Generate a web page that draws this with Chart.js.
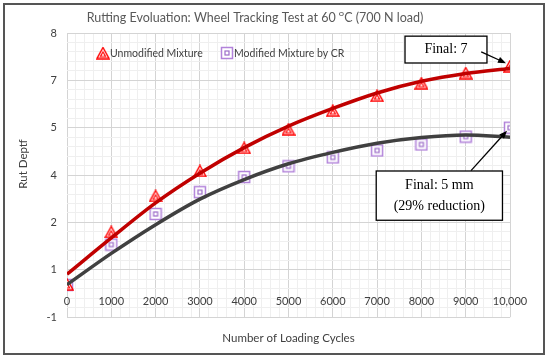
<!DOCTYPE html>
<html>
<head>
<meta charset="utf-8">
<script src="https://cdn.jsdelivr.net/npm/chart.js@4.4.1/dist/chart.umd.min.js"></script>
<style>
    html, body { margin: 0; padding: 0; background: #fff; }
    #wrap { width: 550px; height: 360px; }
</style>
</head>
<body>
<div id="wrap"><canvas id="rutChart" width="550" height="360"></canvas></div>
<script>
// values
const cycles = [0, 1000, 2000, 3000, 4000, 5000, 6000, 7000, 8000, 9000, 10000];
const unmodifiedRut = [0.04, 1.70, 2.84, 3.63, 4.36, 4.95, 5.54, 6.01, 6.41, 6.73, 6.95];
const modifiedRut = [0.02, 1.30, 2.27, 2.96, 3.44, 3.78, 4.06, 4.28, 4.47, 4.72, 5.00];
const unmodifiedTrend = [0.36, 1.51, 2.62, 3.56, 4.37, 5.05, 5.61, 6.10, 6.47, 6.72, 6.88];
const modifiedTrend = [0.03, 1.02, 1.93, 2.74, 3.36, 3.86, 4.22, 4.51, 4.69, 4.77, 4.70];
const xTickLabels = ['0', '1000', '2000', '3000', '4000', '5000', '6000', '7000', '8000', '9000', '10,000'];
const yTickLabels = ['-1', '1', '2', '4', '5', '7', '8'];

const labelFont = 'Lato';

function toPoints(values) {
    return cycles.map((c, i) => ({ x: c, y: values[i] }));
}

function makeTriangleMarker() {
    const c = document.createElement('canvas');
    c.width = 14;
    c.height = 13;
    const g = c.getContext('2d');
    g.strokeStyle = '#FF0000';
    g.fillStyle = '#ffffff';
    g.lineWidth = 1.4;
    g.beginPath();
    g.moveTo(7, 1); g.lineTo(13, 12); g.lineTo(1, 12); g.closePath();
    g.fill(); g.stroke();
    g.lineWidth = 1.2;
    g.beginPath();
    g.moveTo(7, 5.5); g.lineTo(9.6, 10); g.lineTo(4.4, 10); g.closePath();
    g.stroke();
    return c;
}

function makeSquareMarker() {
    const c = document.createElement('canvas');
    c.width = 14;
    c.height = 14;
    const g = c.getContext('2d');
    g.strokeStyle = '#B283DA';
    g.fillStyle = '#ffffff';
    g.lineWidth = 1.5;
    g.fillRect(1.5, 1.5, 11, 11);
    g.strokeRect(1.5, 1.5, 11, 11);
    g.strokeStyle = '#9C6CC8';
    g.lineWidth = 1.2;
    g.strokeRect(5, 5, 4, 4);
    return c;
}

const triangleMarker = makeTriangleMarker();
const squareMarker = makeSquareMarker();

const framePlugin = {
    id: 'frame',
    beforeDraw(chart) {
        const ctx = chart.ctx;
        ctx.save();
        ctx.fillStyle = '#ffffff';
        ctx.fillRect(0, 0, chart.width, chart.height);
        ctx.restore();
    },
    afterDraw(chart) {
        const ctx = chart.ctx;
        ctx.save();
        ctx.strokeStyle = '#555555';
        ctx.lineWidth = 2;
        ctx.strokeRect(4, 4, 540, 350);
        // y axis title
        ctx.translate(23, 164);
        ctx.rotate(-Math.PI / 2);
        ctx.fillStyle = '#404040';
        ctx.font = `11.5px ${labelFont}`;
        ctx.textAlign = 'center';
        ctx.textBaseline = 'middle';
        ctx.fillText('Rut Deptf', 0, 0);
        ctx.restore();
    }
};

const legendPlugin = {
    id: 'insideLegend',
    afterDraw(chart) {
        const ctx = chart.ctx;
        const area = chart.chartArea;
        const items = [
            { text: chart.data.datasets[0].label, marker: triangleMarker, dx: 36 },
            { text: chart.data.datasets[1].label, marker: squareMarker, dx: 160 }
        ];
        const cy = area.top + 20;
        ctx.save();
        ctx.font = `10.5px ${labelFont}`;
        ctx.fillStyle = '#404040';
        ctx.textBaseline = 'middle';
        items.forEach(item => {
            const cx = area.left + item.dx;
            ctx.drawImage(item.marker, cx - item.marker.width / 2, cy - item.marker.height / 2);
            ctx.fillText(item.text, cx + 7, cy + 1);
        });
        ctx.restore();
    }
};

function drawArrow(ctx, x1, y1, x2, y2) {
    const ang = Math.atan2(y2 - y1, x2 - x1);
    const len = 8, half = 3.2;
    ctx.beginPath();
    ctx.moveTo(x1, y1);
    ctx.lineTo(x2 - Math.cos(ang) * len * 0.8, y2 - Math.sin(ang) * len * 0.8);
    ctx.stroke();
    ctx.beginPath();
    ctx.moveTo(x2, y2);
    ctx.lineTo(x2 - Math.cos(ang) * len + Math.sin(ang) * half, y2 - Math.sin(ang) * len - Math.cos(ang) * half);
    ctx.lineTo(x2 - Math.cos(ang) * len - Math.sin(ang) * half, y2 - Math.sin(ang) * len + Math.cos(ang) * half);
    ctx.closePath();
    ctx.fill();
}

function drawNote(ctx, x, y, x1, y1, x2, y2, lines, lineGap) {
    const left = x.getPixelForValue(x1), right = x.getPixelForValue(x2);
    const top = y.getPixelForValue(y1), bottom = y.getPixelForValue(y2);
    ctx.fillStyle = '#ffffff';
    ctx.fillRect(left, top, right - left, bottom - top);
    ctx.strokeStyle = '#000000';
    ctx.lineWidth = 1.3;
    ctx.strokeRect(left, top, right - left, bottom - top);
    ctx.fillStyle = '#000000';
    ctx.font = '14px "Liberation Serif"';
    ctx.textAlign = 'center';
    ctx.textBaseline = 'middle';
    const cx = (left + right) / 2;
    const cy = (top + bottom) / 2 - (lines.length - 1) * lineGap / 2;
    lines.forEach((t, i) => ctx.fillText(t, cx, cy + i * lineGap));
}

const notesPlugin = {
    id: 'finalNotes',
    afterDraw(chart) {
        const { ctx, scales: { x, y } } = chart;
        const last = cycles.length - 1;
        ctx.save();
        drawNote(ctx, x, y, 7630, 7.9, 9480, 7.05, ['Final: 7'], 0);
        drawNote(ctx, x, y, 6980, 3.63, 9830, 2.07, ['Final: 5 mm', '(29% reduction)'], 21);
        ctx.strokeStyle = '#000000';
        ctx.fillStyle = '#000000';
        ctx.lineWidth = 1.3;
        const px1 = x.getPixelForValue(cycles[last]);
        drawArrow(ctx, x.getPixelForValue(9350), y.getPixelForValue(7.4), px1 - 4, y.getPixelForValue(unmodifiedRut[last]) - 3);
        drawArrow(ctx, x.getPixelForValue(9120), y.getPixelForValue(3.64), px1 - 3, y.getPixelForValue(modifiedRut[last]) + 3);
        ctx.restore();
    }
};

const ctx = document.getElementById('rutChart').getContext('2d');
const rutChart = new Chart(ctx, {
    type: 'line',
    data: {
        datasets: [
            {
                label: 'Unmodified Mixture',
                data: toPoints(unmodifiedRut),
                showLine: false,
                pointStyle: triangleMarker,
                pointRadius: 6,
                order: 2
            },
            {
                label: 'Modified Mixture by CR',
                data: toPoints(modifiedRut),
                showLine: false,
                pointStyle: squareMarker,
                pointRadius: 6,
                order: 2
            },
            {
                label: 'Unmodified trend',
                data: toPoints(unmodifiedTrend),
                borderColor: '#C00000',
                borderWidth: 3.5,
                pointRadius: 0,
                cubicInterpolationMode: 'monotone',
                order: 1
            },
            {
                label: 'Modified trend',
                data: toPoints(modifiedTrend),
                borderColor: '#404040',
                borderWidth: 3.5,
                pointRadius: 0,
                cubicInterpolationMode: 'monotone',
                order: 1
            }
        ]
    },
    options: {
        responsive: false,
        animation: false,
        devicePixelRatio: 1,
        layout: { padding: { left: 0, right: 40, top: 0, bottom: 0 } },
        scales: {
            x: {
                type: 'linear',
                position: { y: 0 },
                min: 0,
                max: 10000,
                border: { display: false },
                grid: {
                    drawTicks: false,
                    color: c => (c.tick && c.tick.value % 1000 === 0) ? '#D4D4D4' : '#EFEFEF'
                },
                ticks: {
                    stepSize: 200,
                    autoSkip: false,
                    maxRotation: 0,
                    minRotation: 0,
                    padding: 9,
                    color: '#404040',
                    font: { family: labelFont, size: 11 },
                    callback: v => (v % 1000 === 0 ? xTickLabels[v / 1000] : '')
                }
            },
            y: {
                min: -1,
                max: 8,
                border: { display: false },
                grid: {
                    drawTicks: false,
                    color: c => (c.index % 5 === 0) ? '#D4D4D4' : '#EFEFEF'
                },
                ticks: {
                    stepSize: 0.3,
                    autoSkip: false,
                    padding: 10,
                    color: '#404040',
                    font: { family: labelFont, size: 11 },
                    callback: (v, i) => (i % 5 === 0 ? yTickLabels[i / 5] : '')
                },
                afterFit: scale => { scale.width = 67; }
            }
        },
        plugins: {
            legend: { display: false },
            tooltip: { enabled: false },
            title: {
                display: true,
                text: 'Rutting Evoluation: Wheel Tracking Test at 60 \u1D3CC (700 N load)',
                color: '#595959',
                font: { family: labelFont, size: 12.5, weight: 'normal' },
                padding: { top: 10, bottom: 8 }
            },
            subtitle: {
                display: true,
                position: 'bottom',
                fullSize: false,
                text: 'Number of Loading Cycles',
                color: '#404040',
                font: { family: labelFont, size: 11.5 },
                padding: { top: 14, bottom: 15 }
            }
        }
    },
    plugins: [framePlugin, legendPlugin, notesPlugin]
});
</script>
</body>
</html>
